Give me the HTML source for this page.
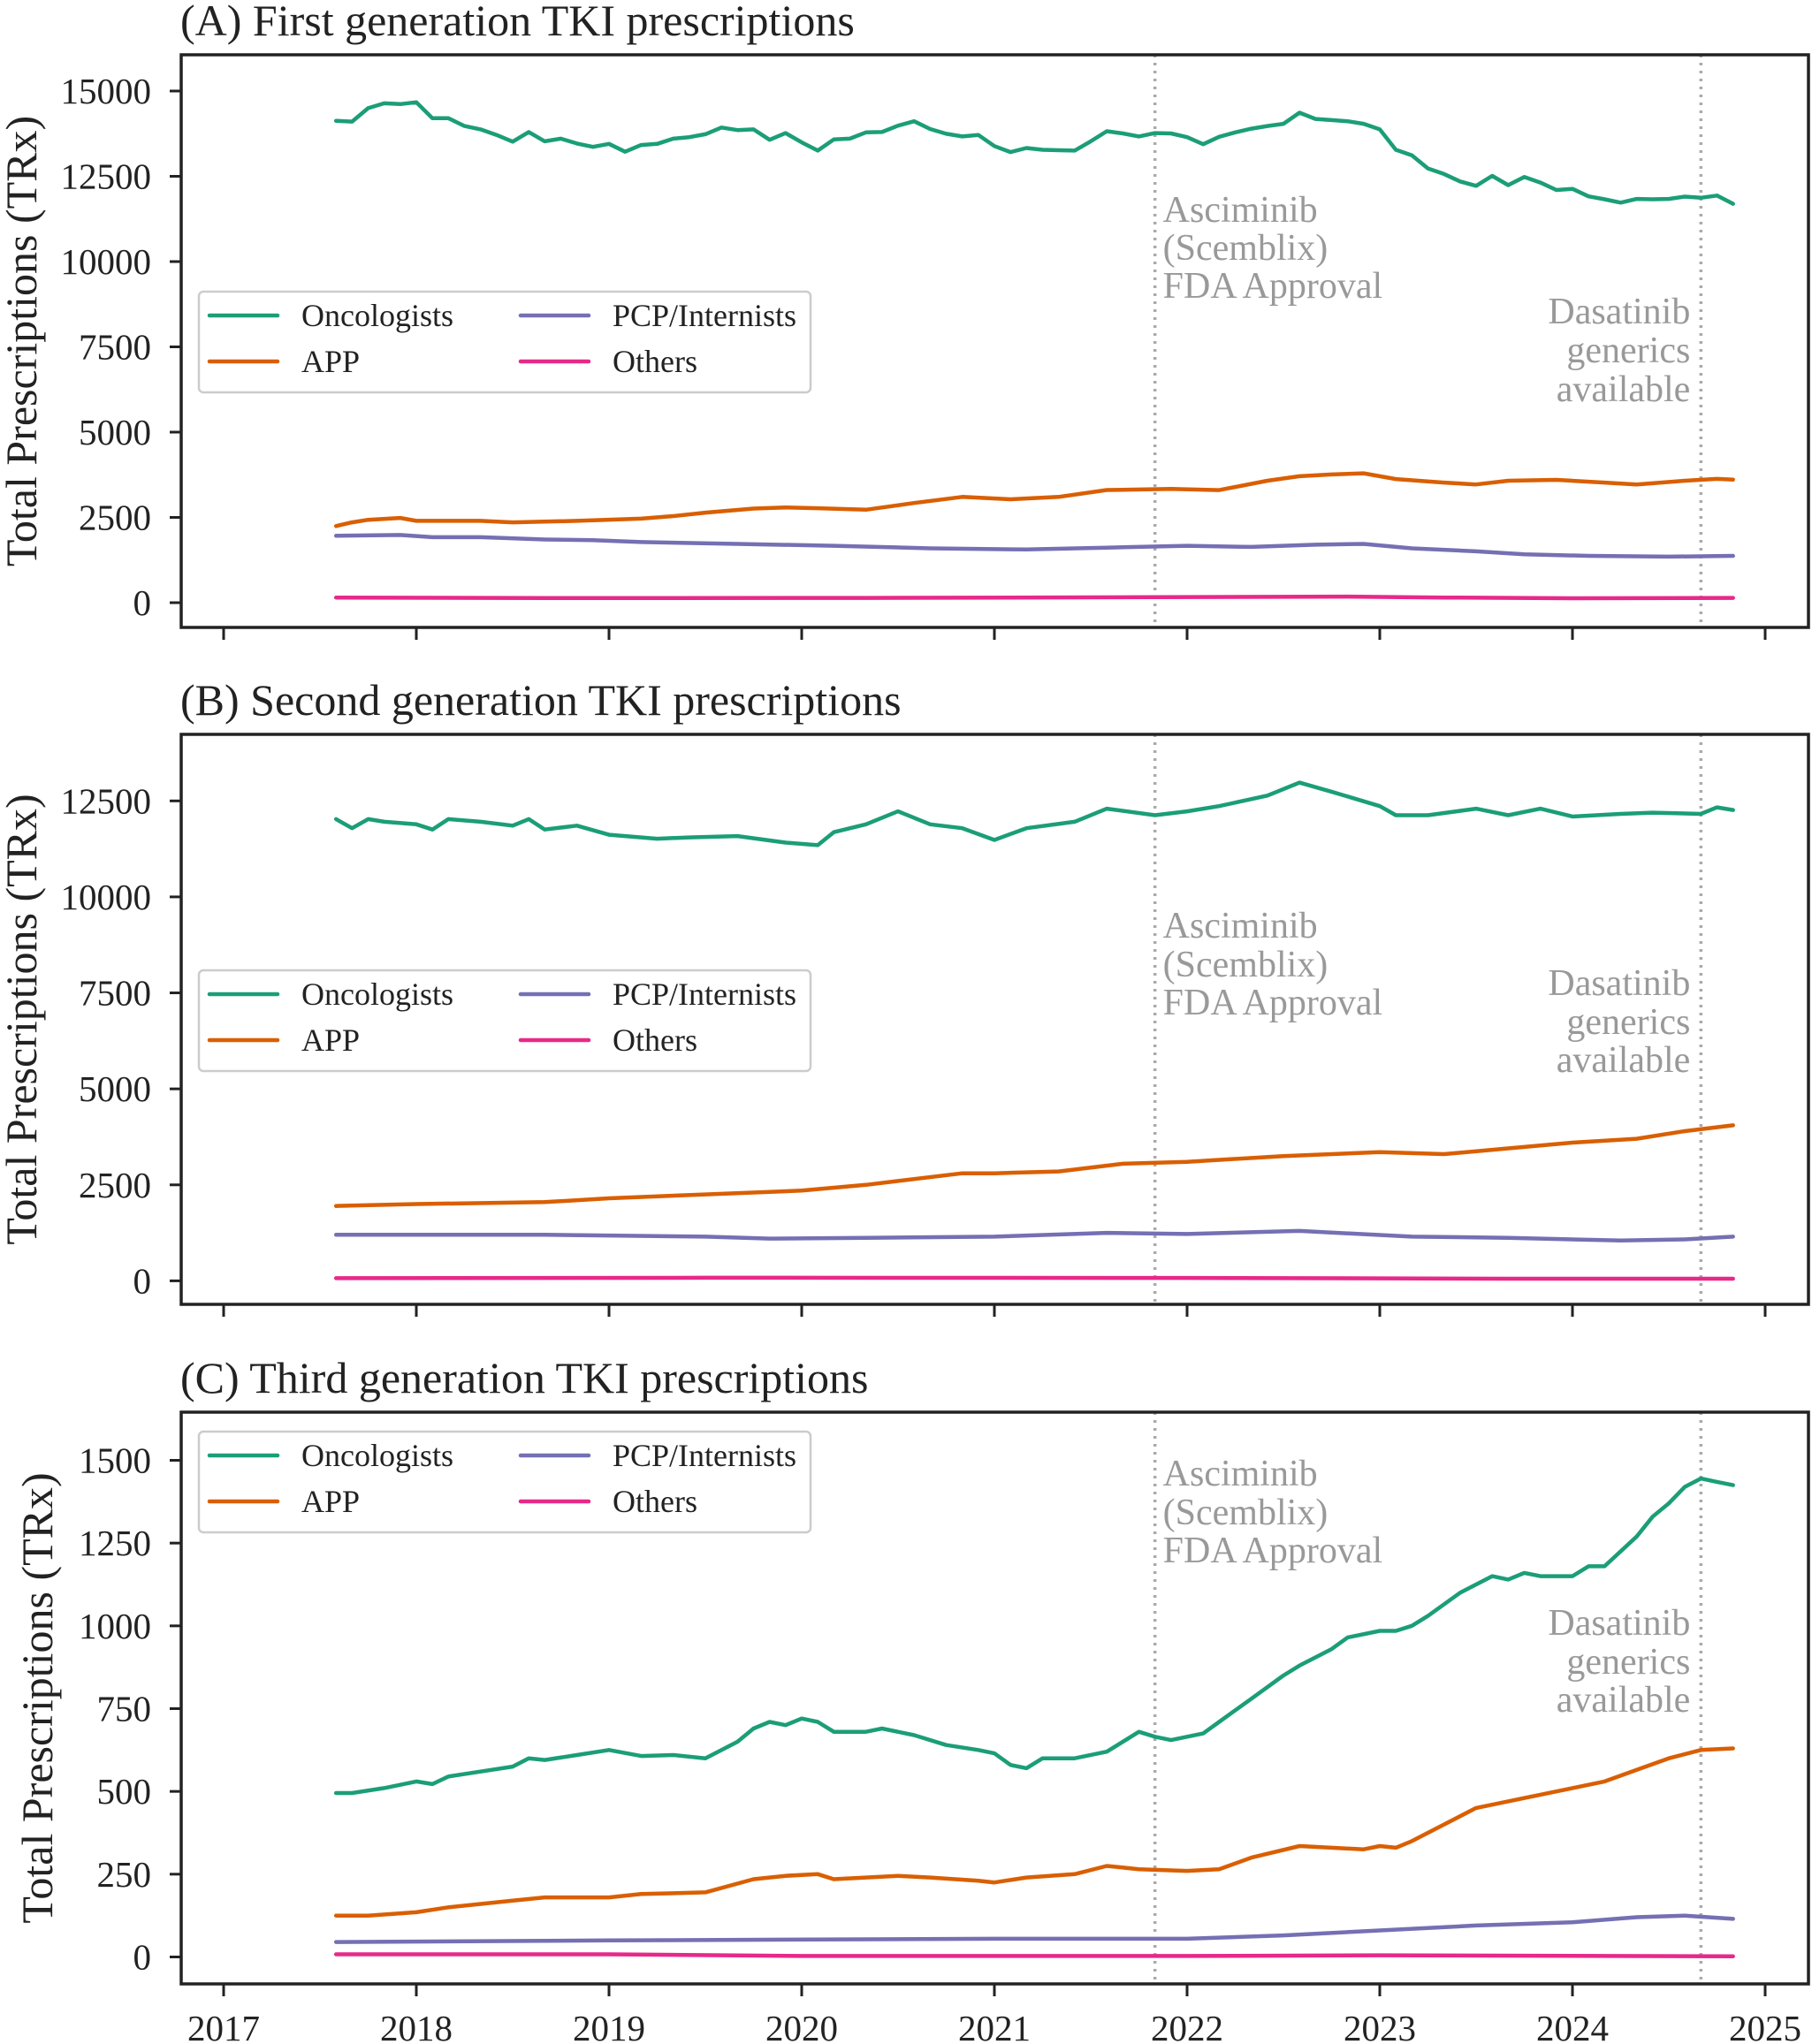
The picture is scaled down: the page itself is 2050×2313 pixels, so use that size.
<!DOCTYPE html>
<html><head><meta charset="utf-8"><style>
html,body{margin:0;padding:0;background:#fff;}
svg{display:block;font-family:"Liberation Serif",serif;}
</style></head><body>
<svg id="chart" width="2050" height="2313" viewBox="0 0 2050 2313" xmlns="http://www.w3.org/2000/svg"></svg>
<script>
// ---------- data (month index: 0 = Jan 2017) ----------
const yearTicks = [2017,2018,2019,2020,2021,2022,2023,2024,2025];
const seriesNames = ["Oncologists","APP","PCP/Internists","Others"];
const eventMonths = [58, 92];

// Panel A
const aOncStart = 7;
const aOncVals = [14126,14104,14497,14639,14617,14671,14203,14203,13974,13876,13712,13516,13799,13527,13603,13461,13363,13450,13221,13418,13450,13603,13647,13734,13930,13854,13876,13570,13766,13494,13254,13581,13603,13788,13799,13985,14115,13886,13745,13668,13712,13385,13210,13330,13276,13265,
13254,13527,13821,13756,13668,13766,13756,13647,13440,13657,13788,13897,13974,14039,14366,14181,14148,14115,14039,13876,13276,13113,12731,12568,12350,12219,12513,12241,12480,12317,12099,12131,11913,11826,11728,11837,11826,11837,11903,11870,11935,11695];
const aAppMonths = [7,8,9,11,12,16,18,22,26,28,30,33,35,37,40,43,46,49,52,55,59,62,65,67,69,71,73,76,78,80,83,86,88,91,93,94];
const aAppVals   = [2245,2354,2430,2485,2400,2398,2354,2398,2463,2540,2640,2758,2790,2770,2725,2921,3100,3030,3100,3302,3335,3300,3575,3706,3760,3793,3625,3520,3466,3575,3600,3520,3466,3575,3630,3610];
const aPcpMonths = [7,11,13,16,20,23,26,32,38,44,50,55,60,64,68,71,74,78,81,85,90,94];
const aPcpVals   = [1962,1984,1919,1919,1853,1831,1777,1722,1668,1592,1559,1613,1668,1635,1700,1722,1592,1504,1417,1373,1351,1373];
const aOthMonths = [7,20,40,58,70,76,84,94];
const aOthVals   = [150,135,140,160,180,150,130,140];

// Panel B
const bOncMonths = [7,8,9,10,12,13,14,16,18,19,20,22,24,27,29,32,35,37,38,40,42,44,46,48,50,53,55,58,60,62,65,67,69,72,73,75,78,80,82,84,87,89,92,93,94];
const bOncVals   = [12025,11788,12025,11957,11890,11754,12025,11957,11856,12025,11754,11856,11618,11516,11550,11584,11414,11346,11686,11890,12229,11890,11788,11482,11788,11957,12297,12127,12229,12365,12637,12977,12739,12365,12127,12127,12297,12127,12297,12093,12161,12195,12161,12331,12263];
const bAppMonths = [7,12,20,24,30,36,40,42,46,48,52,56,60,66,72,76,80,84,88,91,94];
const bAppVals   = [1950,2000,2050,2150,2250,2350,2500,2600,2800,2800,2850,3050,3100,3250,3350,3300,3450,3600,3700,3900,4050];
const bPcpMonths = [7,20,30,34,40,48,55,60,67,74,80,87,91,94];
const bPcpVals   = [1200,1200,1150,1100,1120,1150,1250,1220,1300,1150,1120,1050,1080,1150];
const bOthMonths = [7,30,60,80,94];
const bOthVals   = [70,80,75,55,55];

// Panel C
const cOncMonths = [7,8,10,12,13,14,16,18,19,20,22,24,26,28,30,32,33,34,35,36,37,38,40,41,43,45,47,48,49,50,51,53,55,57,58,59,
  60,61,62,64,66,67,69,70,72,73,74,75,77,79,80,81,82,84,85,86,88,89,90,91,92,93,94];
const cOncVals   = [495,495,510,530,522,545,560,575,600,595,610,625,607,610,600,650,690,710,700,720,710,680,680,690,670,640,625,615,580,570,600,600,620,680,665,655,
  665,675,710,780,850,880,930,965,985,985,1000,1030,1100,1150,1140,1160,1150,1150,1180,1180,1270,1330,1370,1420,1445,1435,1425];
const cAppMonths = [7,9,12,14,18,20,24,26,30,33,35,37,38,42,44,47,48,50,53,55,57,60,62,64,67,69,71,72,73,74,76,78,80,82,84,86,88,90,92,94];
const cAppVals   = [125,125,135,150,170,180,180,190,195,235,245,250,235,245,240,230,225,240,250,275,265,260,265,300,335,330,325,335,330,350,400,450,470,490,510,530,565,600,625,630];
const cPcpMonths = [7,24,48,60,66,72,78,84,88,91,94];
const cPcpVals   = [45,50,55,55,65,80,95,105,120,125,115];
const cOthMonths = [7,24,36,60,72,94];
const cOthVals   = [8,8,3,3,5,2];

const aTicks = [0,2500,5000,7500,10000,12500,15000];
const bTicks = [0,2500,5000,7500,10000,12500];
const cTicks = [0,250,500,750,1000,1250,1500];

// ---------- drawing ----------
const NS = "http://www.w3.org/2000/svg";
const svg = document.getElementById('chart');
const colors = ["#1b9e77","#d95f02","#7570b3","#e7298a"];
const L = 205, R = 2046;
function xOf(m){ return 253 + m * (1997 - 253) / 96; }
function mk(tag, attrs, parent){
  const e = document.createElementNS(NS, tag);
  for (const k in attrs) e.setAttribute(k, attrs[k]);
  (parent || svg).appendChild(e);
  return e;
}
function seqMonths(start, n){ const r=[]; for(let i=0;i<n;i++) r.push(start+i); return r; }

const panels = [
  {id:'a', title:'(A) First generation TKI prescriptions', top:62, bot:710, y0:682, yMax:15000, yMaxPx:103, ticks:aTicks, ylabX:24,
   series:[[seqMonths(aOncStart,aOncVals.length),aOncVals],[aAppMonths,aAppVals],[aPcpMonths,aPcpVals],[aOthMonths,aOthVals]],
   legendY:330, ann1:[237,280,323], ann2:[352,396,440], xlabels:false},
  {id:'b', title:'(B) Second generation TKI prescriptions', top:831, bot:1476, y0:1449.4, yMax:12500, yMaxPx:906.3, ticks:bTicks, ylabX:24,
   series:[[bOncMonths,bOncVals],[bAppMonths,bAppVals],[bPcpMonths,bPcpVals],[bOthMonths,bOthVals]],
   legendY:1098, ann1:[1047,1091,1134], ann2:[1112,1156,1199], xlabels:false},
  {id:'c', title:'(C) Third generation TKI prescriptions', top:1598, bot:2245, y0:2214.5, yMax:1500, yMaxPx:1652.5, ticks:cTicks, ylabX:42,
   series:[[cOncMonths,cOncVals],[cAppMonths,cAppVals],[cPcpMonths,cPcpVals],[cOthMonths,cOthVals]],
   legendY:1620, ann1:[1667,1711,1754], ann2:[1836,1880,1923], xlabels:true}
];

panels.forEach(p => {
  const g = mk('g', {});
  
  
  const yOf = v => p.y0 + (p.yMaxPx - p.y0) * v / p.yMax;

  const t = mk('text', {x:204, y:p.top-22, 'font-size':50, fill:'#222'}, g);
  t.textContent = p.title;
  
  

  p.ticks.forEach(v => {
    const y = yOf(v);
    const tk = mk('line', {x1:L-13, x2:L, y1:y, y2:y, stroke:'#222', 'stroke-width':3}, g);
    
    
    const tl = mk('text', {x:L-34, y:y+14, 'font-size':41, 'text-anchor':'end', fill:'#222'}, g);
    tl.textContent = String(v);
    
    
  });
  const cy = (p.top + p.bot) / 2;
  const yl = mk('text', {x:p.ylabX, y:cy, 'font-size':50, 'text-anchor':'middle', fill:'#222',
    transform:'rotate(-90 ' + (p.ylabX) + ' ' + cy + ')', 'dominant-baseline':'central'}, g);
  yl.textContent = 'Total Prescriptions (TRx)';
  
  

  yearTicks.forEach(yr => {
    const x = xOf((yr - 2017) * 12);
    const tk = mk('line', {x1:x, x2:x, y1:p.bot, y2:p.bot+14, stroke:'#222', 'stroke-width':3}, g);
    
    
    if (p.xlabels) {
      const tl = mk('text', {x:x, y:2309, 'font-size':41, 'text-anchor':'middle', fill:'#222'}, g);
      tl.textContent = String(yr);
      
      
    }
  });

  eventMonths.forEach((m, i) => {
    const x = xOf(m);
    const el = mk('line', {x1:x, x2:x, y1:p.top, y2:p.bot, stroke:'#aaa', 'stroke-width':3.5, 'stroke-dasharray':'3 6'}, g);
    
    
  });
  const a1 = ['Asciminib','(Scemblix)','FDA Approval'];
  a1.forEach((s, i) => {
    const tx = mk('text', {x:xOf(eventMonths[0])+9, y:p.ann1[i]+14, 'font-size':42, fill:'#999'}, g);
    tx.textContent = s;
    
    
  });
  const a2 = ['Dasatinib','generics','available'];
  a2.forEach((s, i) => {
    const tx = mk('text', {x:xOf(eventMonths[1])-12, y:p.ann2[i]+14, 'font-size':42, fill:'#999', 'text-anchor':'end'}, g);
    tx.textContent = s;
    
    
  });

  p.series.forEach((s, si) => {
    const pts = s[0].map((m, i) => xOf(m).toFixed(1) + ',' + yOf(s[1][i]).toFixed(1)).join(' ');
    const pl = mk('polyline', {points:pts, fill:'none', stroke:colors[si], 'stroke-width':4.5, 'stroke-linejoin':'round', 'stroke-linecap':'round'}, g);
    
    
  });

  const fr = mk('rect', {x:L, y:p.top, width:R-L, height:p.bot-p.top, fill:'none', stroke:'#222', 'stroke-width':3.5}, g);
  
  

  const lg = mk('g', {}, g);
  
  
  const lb = mk('rect', {x:225, y:p.legendY, width:692, height:114, rx:5, fill:'#fff', 'fill-opacity':0.85, stroke:'#ccc', 'stroke-width':2.5}, lg);
  
  
  seriesNames.forEach((n, i) => {
    const col = i < 2 ? 0 : 1, row = i % 2;
    const lx = col === 0 ? 237 : 589;
    const ly = p.legendY + 27 + row * 52;
    const ln = mk('line', {x1:lx, x2:lx+77, y1:ly, y2:ly, stroke:colors[i], 'stroke-width':4.5, 'stroke-linecap':'round'}, lg);
    
    
    const tx = mk('text', {x:lx+104, y:ly+12, 'font-size':36, fill:'#222'}, lg);
    tx.textContent = n;
    
    
  });
});
</script>
</body></html>
